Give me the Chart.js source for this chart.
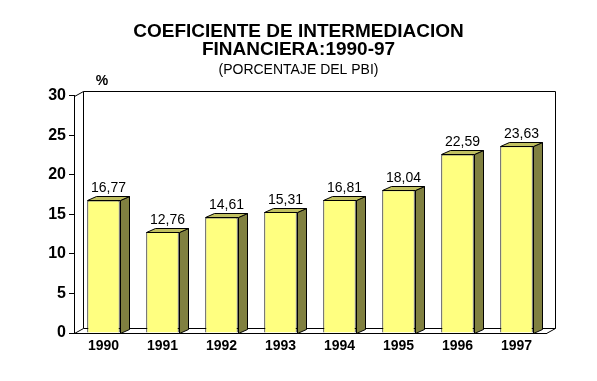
<!DOCTYPE html>
<html>
<head>
<meta charset="utf-8">
<script src="https://cdn.jsdelivr.net/npm/chart.js@4"></script>
<style>
html,body{margin:0;padding:0;background:#fff;}
canvas{display:block;}
</style>
</head>
<body>
<canvas id="c" width="597" height="381"></canvas>
<script>
const years = ['1990','1991','1992','1993','1994','1995','1996','1997'];
const values = [16.77, 12.76, 14.61, 15.31, 16.81, 18.04, 22.59, 23.63];
const titleLines = ['COEFICIENTE DE INTERMEDIACION', 'FINANCIERA:1990-97'];
const subtitleText = '(PORCENTAJE DEL PBI)';
const unitLabel = '%';

const FONT = '"Liberation Sans", Arial, sans-serif';
const WALL_DX = 9, WALL_DY = -5;
const BAR_DX = 9, BAR_DY = -4;

const box3d = {
  id: 'box3d',
  beforeDatasetsDraw(chart) {
    const {ctx, chartArea: a} = chart;
    ctx.save();
    ctx.strokeStyle = '#000';
    ctx.lineWidth = 1;
    const L = Math.round(a.left) + 0.5, R = Math.round(a.right) + 0.5;
    const T = Math.round(a.top) + 0.5, B = Math.round(a.bottom) + 0.5;
    ctx.beginPath();
    ctx.moveTo(L + WALL_DX, B + WALL_DY);
    ctx.lineTo(L + WALL_DX, T + WALL_DY);
    ctx.lineTo(R + WALL_DX, T + WALL_DY);
    ctx.lineTo(R + WALL_DX, B + WALL_DY);
    ctx.lineTo(L + WALL_DX, B + WALL_DY);
    ctx.moveTo(L, T); ctx.lineTo(L + WALL_DX, T + WALL_DY);
    ctx.moveTo(L, B); ctx.lineTo(L + WALL_DX, B + WALL_DY);
    ctx.moveTo(R, B); ctx.lineTo(R + WALL_DX, B + WALL_DY);
    ctx.stroke();
    ctx.restore();
  },
  afterDatasetsDraw(chart) {
    const {ctx} = chart;
    const meta = chart.getDatasetMeta(0);
    ctx.save();
    ctx.strokeStyle = '#000';
    ctx.lineWidth = 1;
    meta.data.forEach((bar, i) => {
      const p = bar.getProps(['x', 'y', 'base', 'width'], true);
      const left = Math.round(p.x - p.width / 2) + 0.5;
      const right = Math.round(p.x + p.width / 2) + 0.5;
      const top = Math.round(p.y) + 0.5;
      const bottom = Math.round(p.base) + 0.5;
      ctx.beginPath();
      ctx.moveTo(right, top);
      ctx.lineTo(right + BAR_DX, top + BAR_DY);
      ctx.lineTo(right + BAR_DX, bottom + BAR_DY);
      ctx.lineTo(right, bottom);
      ctx.closePath();
      ctx.fillStyle = '#808040';
      ctx.fill();
      ctx.stroke();
      ctx.beginPath();
      ctx.moveTo(left, top);
      ctx.lineTo(left + BAR_DX, top + BAR_DY);
      ctx.lineTo(right + BAR_DX, top + BAR_DY);
      ctx.lineTo(right, top);
      ctx.closePath();
      ctx.fillStyle = '#C0C060';
      ctx.fill();
      ctx.stroke();
      ctx.fillStyle = '#000';
      ctx.font = '14px ' + FONT;
      ctx.textAlign = 'center';
      ctx.textBaseline = 'alphabetic';
      const txt = values[i].toFixed(2).replace('.', ',');
      ctx.fillText(txt, p.x + 5, p.y - 8);
    });
    ctx.font = 'bold 14px ' + FONT;
    ctx.textAlign = 'center';
    ctx.textBaseline = 'middle';
    ctx.fillStyle = '#000';
    ctx.fillText(unitLabel, 102, 81);
    ctx.restore();
  }
};

new Chart(document.getElementById('c'), {
  type: 'bar',
  data: {
    labels: years,
    datasets: [{
      data: values,
      backgroundColor: '#FFFF80',
      borderColor: '#000',
      borderWidth: 1,
      borderSkipped: 'start',
      categoryPercentage: 1,
      barPercentage: 0.55
    }]
  },
  options: {
    responsive: false,
    animation: false,
    events: [],
    layout: { padding: 0 },
    plugins: {
      legend: { display: false },
      tooltip: { enabled: false },
      title: {
        display: true,
        text: titleLines,
        color: '#000',
        font: { family: FONT, size: 19, weight: 'bold', lineHeight: 0.95 },
        padding: { top: 23, bottom: 0 }
      },
      subtitle: {
        display: true,
        text: subtitleText,
        color: '#000',
        font: { family: FONT, size: 14, weight: 'normal', lineHeight: 1.2 },
        padding: { top: 3, bottom: 16.9 }
      }
    },
    scales: {
      x: {
        grid: { display: true, drawOnChartArea: false, drawTicks: false },
        border: { display: true, color: '#000', width: 1 },
        ticks: {
          color: '#000',
          font: { family: FONT, size: 14, weight: 'bold' },
          padding: 5,
          maxRotation: 0,
          autoSkip: false
        },
        afterFit(scale) { scale.height = 48; }
      },
      y: {
        min: 0,
        max: 30,
        grid: { display: true, drawOnChartArea: false, drawTicks: true, tickLength: 5, color: '#000' },
        border: { display: true, color: '#000', width: 1 },
        ticks: {
          stepSize: 5,
          color: '#000',
          font: { family: FONT, size: 16, weight: 'bold' },
          padding: 3
        },
        afterFit(scale) { scale.width = 74; }
      },
      yRight: {
        position: 'right',
        display: true,
        min: 0,
        max: 30,
        grid: { display: false },
        border: { display: false },
        ticks: { display: false },
        afterFit(scale) { scale.width = 51; }
      }
    }
  },
  plugins: [box3d]
});
</script>
</body>
</html>
